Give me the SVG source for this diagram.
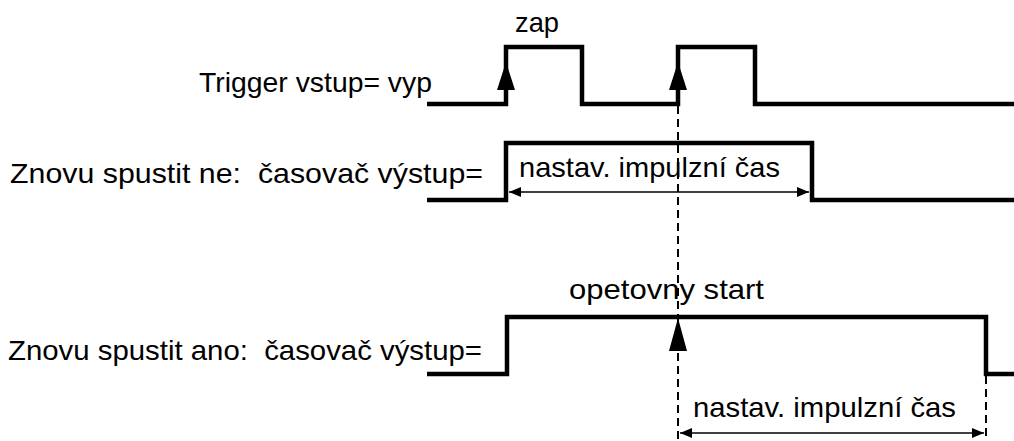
<svg xmlns="http://www.w3.org/2000/svg" width="1014" height="441" viewBox="0 0 1014 441">
<style>
text{font-family:"Liberation Sans",Arial,sans-serif;font-size:28px;fill:#000;white-space:pre}
.sig{fill:none;stroke:#000;stroke-width:4.5;stroke-linejoin:miter}
.dash{fill:none;stroke:#000;stroke-width:2;stroke-dasharray:8,5}
.dim{fill:none;stroke:#000;stroke-width:1.5}
.head{fill:#000}
</style>
<defs>
<marker id="dh" viewBox="0 0 12 10" refX="12" refY="5" markerWidth="12" markerHeight="10" markerUnits="userSpaceOnUse" orient="auto-start-reverse">
<path d="M0,0 L12,5 L0,10 Z" fill="#000"/>
</marker>
</defs>
<g id="labels">
<text x="199" y="92" textLength="233" lengthAdjust="spacingAndGlyphs">Trigger vstup= vyp</text>
<text x="10" y="183" textLength="473" lengthAdjust="spacingAndGlyphs">Znovu spustit ne:  časovač výstup=</text>
<text x="8" y="360" textLength="474" lengthAdjust="spacingAndGlyphs">Znovu spustit ano:  časovač výstup=</text>
</g>
<g id="trigger">
<path class="sig" d="M427,104 H506 V47 H582 V104 H678 V47 H755 V104 H1014"/>
<text x="515" y="32" textLength="44" lengthAdjust="spacingAndGlyphs">zap</text>
</g>
<g id="output-no">
<path class="sig" d="M427,200 H506 V143 H812 V200 H1014"/>
<text x="519" y="177" textLength="261" lengthAdjust="spacingAndGlyphs">nastav. impulzní čas</text>
</g>
<g id="output-yes">
<path class="sig" d="M427,374 H507 V317 H986 V374 H1014"/>
<text x="569" y="299" textLength="195" lengthAdjust="spacingAndGlyphs">opetovny start</text>
<text x="693" y="417" textLength="263" lengthAdjust="spacingAndGlyphs">nastav. impulzní čas</text>
</g>
<g id="connectors">
<line class="dash" x1="678" y1="106" x2="678" y2="441"/>
<line class="dash" x1="986" y1="376" x2="986" y2="441"/>
<polygon class="head" points="506,62 515,90 497,90"/>
<polygon class="head" points="678,62 687,90 669,90"/>
<polygon class="head" points="678,318 687,351 669,351"/>
<line class="dim" x1="509" y1="192" x2="809" y2="192" marker-start="url(#dh)" marker-end="url(#dh)"/>
<line class="dim" x1="680" y1="433" x2="984" y2="433" marker-start="url(#dh)" marker-end="url(#dh)"/>
</g>
</svg>
